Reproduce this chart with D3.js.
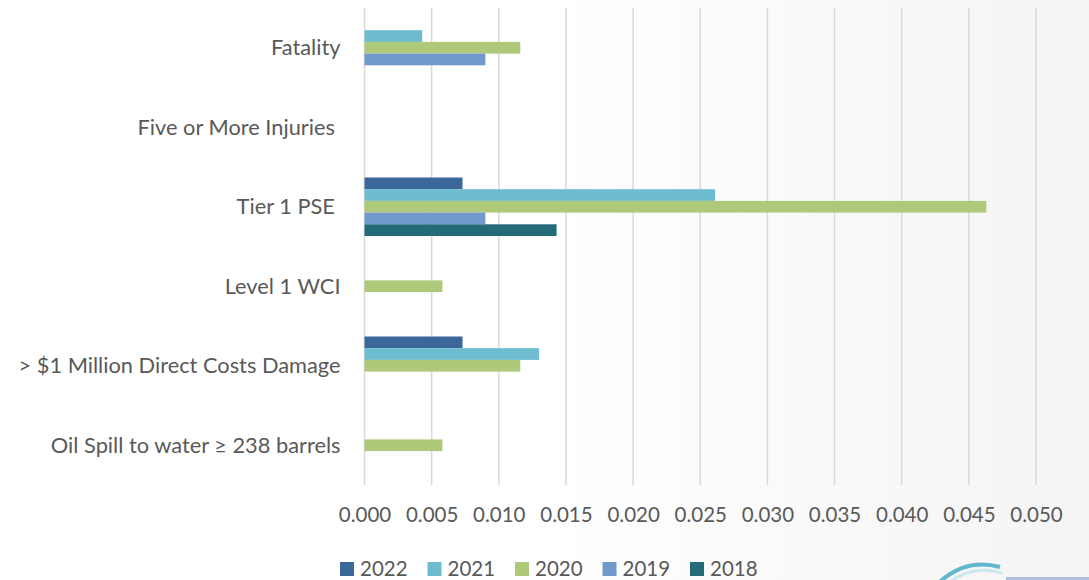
<!DOCTYPE html>
<html lang="en">
<head>
    <meta charset="UTF-8">
    <title>Incident rates by category</title>
    <script src="https://cdnjs.cloudflare.com/ajax/libs/d3/7.8.5/d3.min.js"></script>
    <style>
        body {
            margin: 0;
            padding: 0;
            background: #ffffff;
        }
        text {
            font-family: Lato, "Open Sans", sans-serif;
            fill: #595959;
        }
        .grid line {
            stroke: #d9d9d9;
            stroke-width: 1.5;
        }
    </style>
</head>
<body>
    <div id="chart"></div>

    <script>
        // 数据
        const categories = [
            "Fatality",
            "Five or More Injuries ",
            "Tier 1 PSE ",
            "Level 1 WCI",
            "> $1 Million Direct Costs Damage",
            "Oil Spill to water \u2265 238 barrels"
        ];
        const years = ["2022", "2021", "2020", "2019", "2018"];
        const values2022 = [0, 0, 0.0073, 0, 0.0073, 0];
        const values2021 = [0.0043, 0, 0.0261, 0, 0.0130, 0];
        const values2020 = [0.0116, 0, 0.0463, 0.0058, 0.0116, 0.0058];
        const values2019 = [0.0090, 0, 0.0090, 0, 0, 0];
        const values2018 = [0, 0, 0.0143, 0, 0, 0];
        const xTicks = [0, 0.005, 0.01, 0.015, 0.02, 0.025, 0.03, 0.035, 0.04, 0.045, 0.05];
        const colors = ["#3b679b", "#6ebcd0", "#aec97a", "#7299cb", "#256a78"];

        const series = [values2022, values2021, values2020, values2019, values2018];

        const width = 1089;
        const height = 580;
        const margin = {top: 8, right: 53, bottom: 95, left: 364.5};

        const svg = d3.select("#chart")
            .append("svg")
            .attr("width", width)
            .attr("height", height);

        // 背景渐变
        const defs = svg.append("defs");
        const grad = defs.append("linearGradient")
            .attr("id", "bg")
            .attr("x1", "0%").attr("x2", "100%")
            .attr("y1", "0%").attr("y2", "0%");
        grad.append("stop").attr("offset", "0%").attr("stop-color", "#ffffff");
        grad.append("stop").attr("offset", "50%").attr("stop-color", "#ffffff");
        grad.append("stop").attr("offset", "100%").attr("stop-color", "#f4f4f4");
        svg.append("rect")
            .attr("width", width)
            .attr("height", height)
            .attr("fill", "url(#bg)");

        const x = d3.scaleLinear()
            .domain([0, 0.05])
            .range([margin.left, width - margin.right]);

        const y = d3.scaleBand()
            .domain(categories)
            .range([margin.top, height - margin.bottom])
            .paddingInner(0.264)
            .paddingOuter(0.132);

        const yInner = d3.scaleBand()
            .domain(years)
            .range([0, y.bandwidth()]);

        // 网格线
        svg.append("g")
            .attr("class", "grid")
            .selectAll("line")
            .data(xTicks)
            .enter().append("line")
            .attr("x1", d => x(d))
            .attr("x2", d => x(d))
            .attr("y1", margin.top)
            .attr("y2", height - margin.bottom);

        // 条形
        const groups = svg.append("g")
            .selectAll("g")
            .data(categories)
            .enter().append("g")
            .attr("transform", d => `translate(0,${y(d)})`);

        groups.selectAll("rect")
            .data((d, i) => years.map((yr, j) => ({year: yr, value: series[j][i], color: colors[j]})))
            .enter().append("rect")
            .filter(d => d.value > 0)
            .attr("x", x(0))
            .attr("y", d => yInner(d.year))
            .attr("width", d => x(d.value) - x(0))
            .attr("height", yInner.bandwidth())
            .attr("fill", d => d.color);

        // 类别标签
        svg.append("g")
            .selectAll("text")
            .data(categories)
            .enter().append("text")
            .attr("x", x(0) - 24)
            .attr("y", d => y(d) + y.bandwidth() / 2)
            .attr("dy", "0.35em")
            .attr("text-anchor", "end")
            .style("font-size", "21.8px")
            .style("white-space", "pre")
            .text(d => d);

        // x 轴
        const xAxis = d3.axisBottom(x)
            .tickValues(xTicks)
            .tickSize(0)
            .tickPadding(0)
            .tickFormat(d3.format(".3f"));

        const axisG = svg.append("g")
            .attr("transform", `translate(0,${height - margin.bottom + 22})`)
            .call(xAxis);
        axisG.select(".domain").remove();
        axisG.selectAll("text")
            .style("font-size", "20.5px")
            .attr("fill", "#595959");

        // 图例
        const legend = svg.append("g")
            .attr("transform", "translate(340,562)");
        const item = legend.selectAll("g")
            .data(years)
            .enter().append("g")
            .attr("transform", (d, i) => `translate(${i * 87.5},0)`);
        item.append("rect")
            .attr("width", 14)
            .attr("height", 14)
            .attr("fill", (d, i) => colors[i]);
        item.append("text")
            .attr("x", 20)
            .attr("y", 7)
            .attr("dy", "0.35em")
            .style("font-size", "20.5px")
            .text(d => d);

        // 右下角标志（部分可见）
        const logo = svg.append("g");
        logo.append("path")
            .attr("d", "M930,592 Q960,556 1000,567")
            .attr("fill", "none")
            .attr("stroke", "#3aa6c4")
            .attr("stroke-width", 4)
            .attr("opacity", 0.8);
        logo.append("path")
            .attr("d", "M936,594 Q966,562 1002,573")
            .attr("fill", "none")
            .attr("stroke", "#bfe3ee")
            .attr("stroke-width", 3)
            .attr("opacity", 0.8);
        logo.append("rect")
            .attr("x", 1006).attr("y", 577)
            .attr("width", 83).attr("height", 3)
            .attr("fill", "#8fa8d0")
            .attr("opacity", 0.7);
    </script>
</body>
</html>
